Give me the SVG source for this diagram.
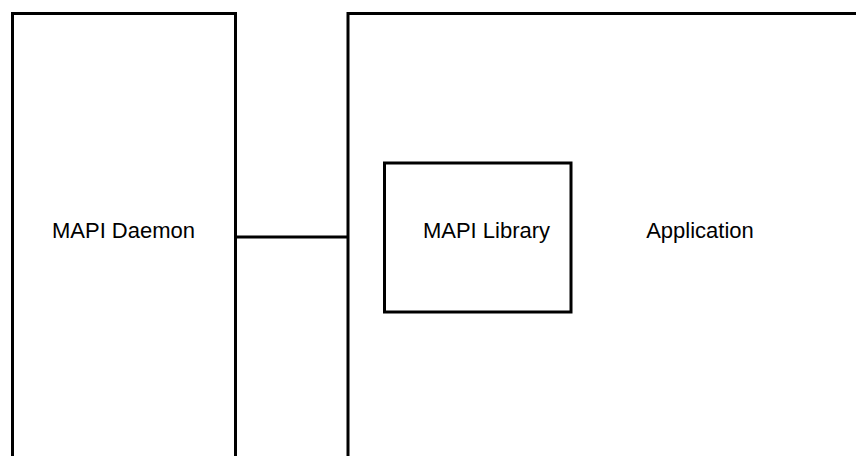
<svg xmlns="http://www.w3.org/2000/svg" width="856" height="456" viewBox="0 0 856 456">
<style>
.box{fill:none;stroke:#000;stroke-width:3}
.lbl{font-family:"Liberation Sans",Arial,sans-serif;font-size:22px;fill:#000}
.conn{stroke:#000;stroke-width:3;fill:none}
</style>
<rect width="856" height="456" fill="#fff"/>
<g id="daemon">
<rect class="box" x="12.5" y="13.5" width="223" height="500"/>
<text class="lbl" x="123.5" y="238" text-anchor="middle">MAPI Daemon</text>
</g>
<g id="application">
<rect class="box" x="348" y="13.5" width="600" height="500"/>
<text class="lbl" x="700" y="238" text-anchor="middle">Application</text>
</g>
<g id="library">
<rect class="box" x="384.5" y="163" width="186.5" height="149"/>
<text class="lbl" x="486.5" y="238" text-anchor="middle">MAPI Library</text>
</g>
<g id="connectors">
<line class="conn" x1="235.5" y1="237" x2="348" y2="237"/>
</g>
</svg>
